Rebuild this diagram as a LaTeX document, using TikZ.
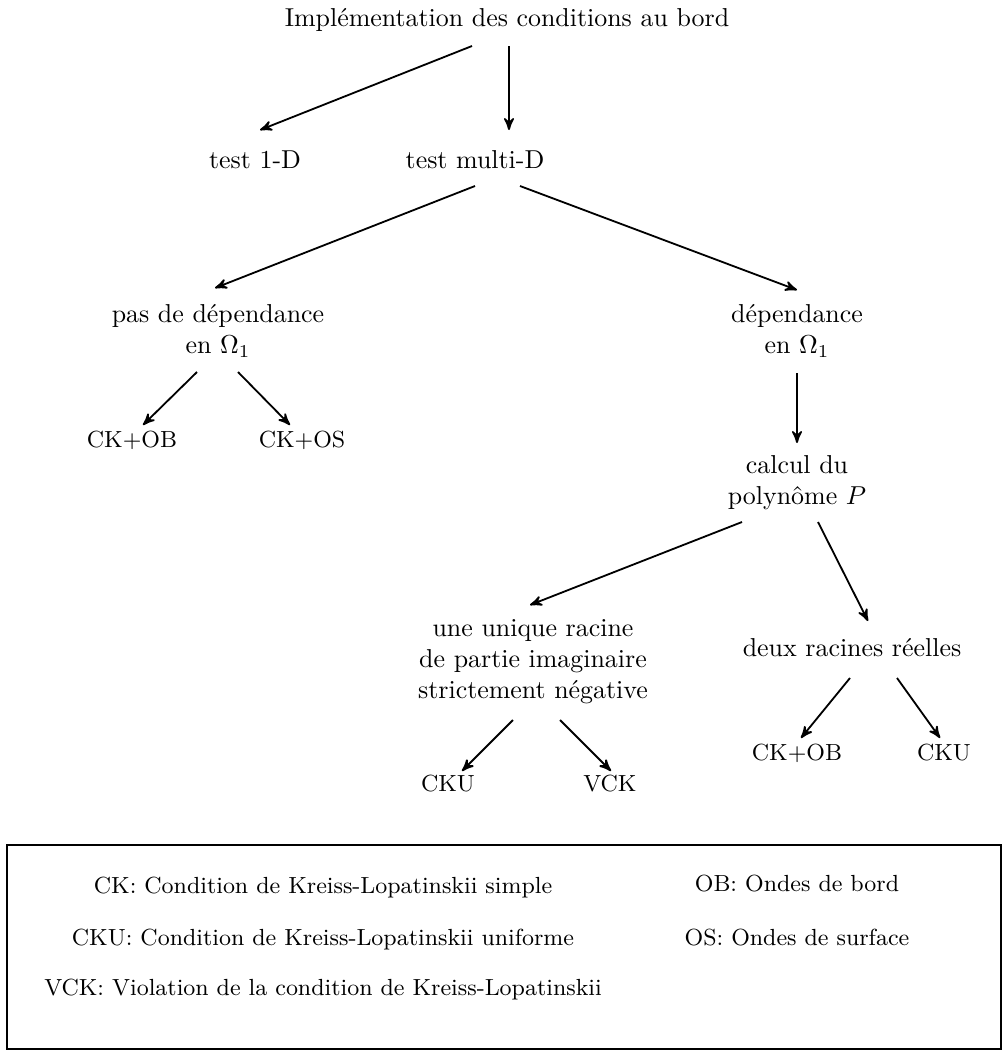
\documentclass[tikz,border=0pt]{standalone}
\usepackage{amssymb}
\usepackage{tikz}
\usetikzlibrary{arrows,calc}

\begin{document}
\begin{tikzpicture}[x=0.386pt,y=-0.386pt,
    txt/.style={align=center,inner sep=0pt},
    leaf/.style={inner sep=0pt,font=\small},
    legend/.style={inner sep=0pt,font=\small},
    fl/.style={->,>=stealth',line width=0.7pt}]
    \useasboundingbox (0,0) rectangle (1002,1055);
    % Baum
    \node[txt] (impl) at (507,20) {Impl\'ementation des conditions au bord};
    \node[txt] (t1d) at (255,160) {test 1-D};
    \node[txt] (tmd) at (475,160) {test multi-D};
    \node[txt] (pasdep) at (218,331) {pas de d\'ependance\\en $\Omega_1$};
    \node[txt] (dep) at (797,331) {d\'ependance\\en $\Omega_1$};
    \node[txt] (calc) at (797,483) {calcul du\\polyn\^ome $P$};
    \node[txt] (uniq) at (533,662) {une unique racine\\de partie imaginaire\\strictement n\'egative};
    \node[txt] (deux) at (852,648) {deux racines r\'eelles};
    \node[leaf] (ckobA) at (132,440) {CK+OB};
    \node[leaf] (ckos) at (302,440) {CK+OS};
    \node[leaf] (ckuA) at (448,784) {CKU};
    \node[leaf] (vck) at (610,784) {VCK};
    \node[leaf] (ckobB) at (797,753) {CK+OB};
    \node[leaf] (ckuB) at (944,753) {CKU};
    % Pfeile
    \draw[fl] ($(impl)+(-35,26)$) -- ($(t1d)+(5,-30)$);
    \draw[fl] ($(impl)+(2,26)$) -- ($(tmd)+(34,-30)$);
    \draw[fl] ($(tmd)+(0,26)$) -- ($(pasdep)+(-3,-43)$);
    \draw[fl] ($(tmd)+(45,26)$) -- ($(dep)+(0,-41)$);
    \draw[fl] ($(pasdep)+(-21,41)$) -- ($(ckobA)+(11,-15)$);
    \draw[fl] ($(pasdep)+(20,41)$) -- ($(ckos)+(-12,-15)$);
    \draw[fl] ($(dep)+(0,42)$) -- ($(calc)+(0,-40)$);
    \draw[fl] ($(calc)+(-55,39)$) -- ($(uniq)+(-3,-57)$);
    \draw[fl] ($(calc)+(21,39)$) -- ($(deux)+(16,-27)$);
    \draw[fl] ($(uniq)+(-20,58)$) -- ($(ckuA)+(14,-13)$);
    \draw[fl] ($(uniq)+(27,58)$) -- ($(vck)+(1,-13)$);
    \draw[fl] ($(deux)+(-2,30)$) -- ($(ckobB)+(4,-15)$);
    \draw[fl] ($(deux)+(45,30)$) -- ($(ckuB)+(-4,-15)$);
    % Legende
    \draw[line width=0.7pt] (7,845) rectangle (1001,1049);
    \node[legend] (lck) at (323,888) {CK: Condition de Kreiss-Lopatinskii simple};
    \node[legend] (lcku) at (323,940) {CKU: Condition de Kreiss-Lopatinskii uniforme};
    \node[legend] (lvck) at (323,990) {VCK: Violation de la condition de Kreiss-Lopatinskii};
    \node[legend] (lob) at (797,884) {OB: Ondes de bord};
    \node[legend] (los) at (797,938) {OS: Ondes de surface};
\end{tikzpicture}
\end{document}
